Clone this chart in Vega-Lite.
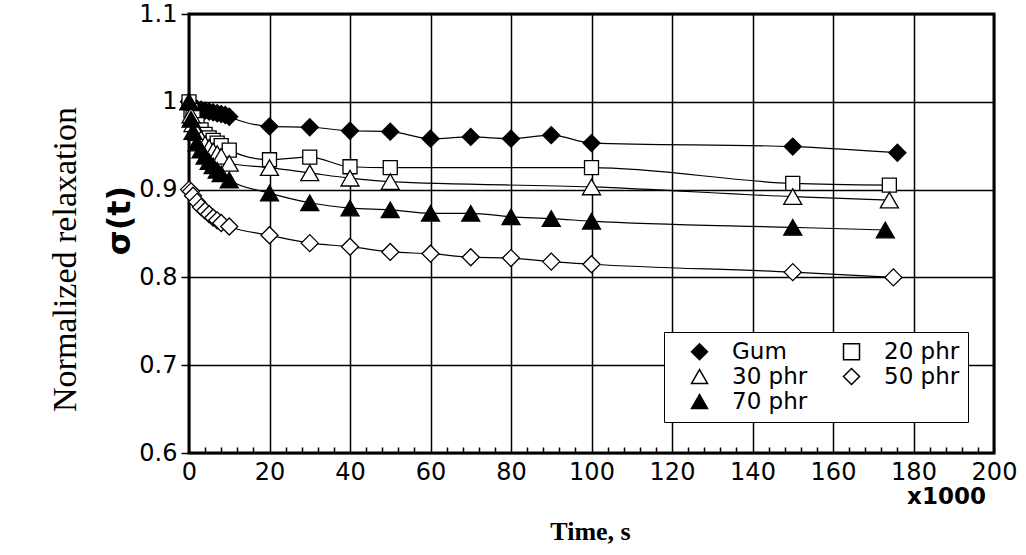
{
  "$schema": "https://vega.github.io/schema/vega-lite/v6.json",
  "width": 805,
  "height": 439,
  "autosize": "none",
  "padding": {"left": 189, "top": 14, "right": 32, "bottom": 102},
  "background": "white",
  "config": {
    "font": "DejaVu Sans",
    "view": {"stroke": "black", "strokeWidth": 3}
  },
  "datasets": {"relax": [
    {"s": "Gum", "t": 0, "v": 1.0}, {"s": "Gum", "t": 0.5, "v": 0.996}, {"s": "Gum", "t": 1, "v": 0.994},
    {"s": "Gum", "t": 2, "v": 0.992}, {"s": "Gum", "t": 3, "v": 0.991}, {"s": "Gum", "t": 4, "v": 0.99},
    {"s": "Gum", "t": 5, "v": 0.989}, {"s": "Gum", "t": 6, "v": 0.988}, {"s": "Gum", "t": 7, "v": 0.987},
    {"s": "Gum", "t": 8, "v": 0.986}, {"s": "Gum", "t": 9, "v": 0.985}, {"s": "Gum", "t": 10, "v": 0.983},
    {"s": "Gum", "t": 20, "v": 0.972}, {"s": "Gum", "t": 30, "v": 0.971}, {"s": "Gum", "t": 40, "v": 0.967},
    {"s": "Gum", "t": 50, "v": 0.966}, {"s": "Gum", "t": 60, "v": 0.958}, {"s": "Gum", "t": 70, "v": 0.96},
    {"s": "Gum", "t": 80, "v": 0.958}, {"s": "Gum", "t": 90, "v": 0.962}, {"s": "Gum", "t": 100, "v": 0.953},
    {"s": "Gum", "t": 150, "v": 0.949}, {"s": "Gum", "t": 176, "v": 0.942},
    {"s": "20 phr", "t": 0, "v": 1.0}, {"s": "20 phr", "t": 0.5, "v": 0.99}, {"s": "20 phr", "t": 1, "v": 0.982},
    {"s": "20 phr", "t": 2, "v": 0.974}, {"s": "20 phr", "t": 3, "v": 0.968}, {"s": "20 phr", "t": 4, "v": 0.963},
    {"s": "20 phr", "t": 5, "v": 0.959}, {"s": "20 phr", "t": 6, "v": 0.956}, {"s": "20 phr", "t": 7, "v": 0.953},
    {"s": "20 phr", "t": 8, "v": 0.95}, {"s": "20 phr", "t": 10, "v": 0.945}, {"s": "20 phr", "t": 20, "v": 0.934},
    {"s": "20 phr", "t": 30, "v": 0.937}, {"s": "20 phr", "t": 40, "v": 0.926}, {"s": "20 phr", "t": 50, "v": 0.925},
    {"s": "20 phr", "t": 100, "v": 0.925}, {"s": "20 phr", "t": 150, "v": 0.907}, {"s": "20 phr", "t": 174, "v": 0.905},
    {"s": "30 phr", "t": 0, "v": 1.0}, {"s": "30 phr", "t": 0.5, "v": 0.985}, {"s": "30 phr", "t": 1, "v": 0.975},
    {"s": "30 phr", "t": 2, "v": 0.965}, {"s": "30 phr", "t": 3, "v": 0.958}, {"s": "30 phr", "t": 4, "v": 0.952},
    {"s": "30 phr", "t": 5, "v": 0.948}, {"s": "30 phr", "t": 6, "v": 0.944}, {"s": "30 phr", "t": 7, "v": 0.941},
    {"s": "30 phr", "t": 8, "v": 0.938}, {"s": "30 phr", "t": 10, "v": 0.93}, {"s": "30 phr", "t": 20, "v": 0.925},
    {"s": "30 phr", "t": 30, "v": 0.919}, {"s": "30 phr", "t": 40, "v": 0.913}, {"s": "30 phr", "t": 50, "v": 0.909},
    {"s": "30 phr", "t": 100, "v": 0.903}, {"s": "30 phr", "t": 150, "v": 0.892}, {"s": "30 phr", "t": 174, "v": 0.888},
    {"s": "50 phr", "t": 0, "v": 0.9}, {"s": "50 phr", "t": 0.5, "v": 0.898}, {"s": "50 phr", "t": 1, "v": 0.893},
    {"s": "50 phr", "t": 2, "v": 0.886}, {"s": "50 phr", "t": 3, "v": 0.88}, {"s": "50 phr", "t": 4, "v": 0.876},
    {"s": "50 phr", "t": 5, "v": 0.872}, {"s": "50 phr", "t": 6, "v": 0.868}, {"s": "50 phr", "t": 7, "v": 0.865},
    {"s": "50 phr", "t": 8, "v": 0.862}, {"s": "50 phr", "t": 10, "v": 0.858}, {"s": "50 phr", "t": 20, "v": 0.848},
    {"s": "50 phr", "t": 30, "v": 0.839}, {"s": "50 phr", "t": 40, "v": 0.835}, {"s": "50 phr", "t": 50, "v": 0.829},
    {"s": "50 phr", "t": 60, "v": 0.827}, {"s": "50 phr", "t": 70, "v": 0.823}, {"s": "50 phr", "t": 80, "v": 0.822},
    {"s": "50 phr", "t": 90, "v": 0.818}, {"s": "50 phr", "t": 100, "v": 0.815}, {"s": "50 phr", "t": 150, "v": 0.806},
    {"s": "50 phr", "t": 175, "v": 0.8},
    {"s": "70 phr", "t": 0, "v": 1.0}, {"s": "70 phr", "t": 0.5, "v": 0.98}, {"s": "70 phr", "t": 1, "v": 0.966},
    {"s": "70 phr", "t": 2, "v": 0.953}, {"s": "70 phr", "t": 3, "v": 0.945}, {"s": "70 phr", "t": 4, "v": 0.938},
    {"s": "70 phr", "t": 5, "v": 0.932}, {"s": "70 phr", "t": 6, "v": 0.927}, {"s": "70 phr", "t": 7, "v": 0.922},
    {"s": "70 phr", "t": 8, "v": 0.918}, {"s": "70 phr", "t": 10, "v": 0.911}, {"s": "70 phr", "t": 20, "v": 0.896},
    {"s": "70 phr", "t": 30, "v": 0.885}, {"s": "70 phr", "t": 40, "v": 0.879}, {"s": "70 phr", "t": 50, "v": 0.877},
    {"s": "70 phr", "t": 60, "v": 0.873}, {"s": "70 phr", "t": 70, "v": 0.873}, {"s": "70 phr", "t": 80, "v": 0.869},
    {"s": "70 phr", "t": 90, "v": 0.867}, {"s": "70 phr", "t": 100, "v": 0.864}, {"s": "70 phr", "t": 150, "v": 0.857},
    {"s": "70 phr", "t": 173, "v": 0.854}
  ]},
  "data": {"name": "relax"},
  "layer": [
    {
      "mark": {"type": "line", "interpolate": "monotone", "stroke": "black", "strokeWidth": 1.2},
      "encoding": {
        "x": {"field": "t", "type": "quantitative", "scale": {"domain": [0, 200], "nice": false, "zero": false},
          "axis": {"orient": "bottom", "values": [0,4,8,12,16,20,24,28,32,36,40,44,48,52,56,60,64,68,72,76,80,84,88,92,96,100,104,108,112,116,120,124,128,132,136,140,144,148,152,156,160,164,168,172,176,180,184,188,192,196,200],
            "labelExpr": "datum.value % 20 === 0 ? datum.label : ''",
            "domain": false, "grid": true, "gridColor": "black", "gridWidth": 1.5,
            "gridOpacity": {"condition": {"test": "datum.value % 20 === 0", "value": 1}, "value": 0},
            "ticks": true, "tickColor": "black", "tickWidth": 1.5, "tickSize": -6,
            "tickOpacity": {"condition": {"test": "datum.value % 20 === 0", "value": 0}, "value": 1},
            "labelFont": "DejaVu Sans", "labelFontSize": 24, "labelColor": "black", "labelPadding": 13,
            "labelFlush": false, "labelOverlap": false,
            "title": "Time, s", "titleFont": "Liberation Serif", "titleFontSize": 26, "titleFontWeight": "bold",
            "titleColor": "black", "titleX": 401, "titleY": 78, "titleAlign": "center", "titleBaseline": "middle"}},
        "y": {"field": "v", "type": "quantitative", "scale": {"domain": [0.6, 1.1], "nice": false, "zero": false},
          "axis": {"orient": "left", "values": [0.6, 0.7, 0.8, 0.9, 1, 1.1], "format": "~g",
            "domain": false, "grid": true, "gridColor": "black", "gridWidth": 1.5,
            "ticks": true, "tickColor": "black", "tickWidth": 1.5, "tickSize": 8,
            "labelFont": "DejaVu Sans", "labelFontSize": 24, "labelColor": "black", "labelPadding": 4,
            "labelFlush": false, "labelOverlap": false,
            "title": "σ(t)", "titleFont": "DejaVu Sans", "titleFontSize": 32, "titleFontWeight": "bold",
            "titleColor": "black", "titleAngle": 270, "titleX": -70, "titleY": 206, "titleAlign": "center", "titleBaseline": "middle"}},
        "detail": {"field": "s"}
      }
    },
    {
      "transform": [{"filter": "datum.s === 'Gum' || datum.s === '50 phr'"}],
      "mark": {"type": "point", "filled": true, "stroke": "black", "strokeWidth": 1.3, "opacity": 1, "size": 289},
      "encoding": {
        "x": {"field": "t", "type": "quantitative",
          "axis": {"orient": "bottom", "domain": false, "ticks": false, "labels": false, "grid": false,
            "title": "x1000", "titleFont": "DejaVu Sans", "titleFontSize": 23, "titleFontWeight": "bold",
            "titleColor": "black", "titleX": 757, "titleY": 43, "titleAlign": "center", "titleBaseline": "middle"}},
        "y": {"field": "v", "type": "quantitative",
          "axis": {"orient": "left", "domain": false, "ticks": false, "labels": false, "grid": false,
            "title": "Normalized relaxation", "titleFont": "Liberation Serif", "titleFontSize": 34, "titleFontWeight": "normal",
            "titleColor": "black", "titleAngle": 270, "titleX": -124, "titleY": 245, "titleAlign": "center", "titleBaseline": "middle"}},
        "shape": {"field": "s", "type": "nominal",
          "scale": {"domain": ["Gum", "20 phr", "30 phr", "50 phr", "70 phr"], "range": ["diamond", "square", "triangle-up", "diamond", "triangle-up"]},
          "legend": {"orient": "none", "legendX": 475, "legendY": 318, "columns": 2, "direction": "horizontal", "padding": 8,
            "strokeColor": "black", "fillColor": "white", "title": null,
            "labelFont": "DejaVu Sans", "labelFontSize": 23, "labelColor": "black",
            "symbolSize": 256, "rowPadding": 1, "columnPadding": 16, "labelOffset": 21, "symbolOffset": 16,
            "encode": {"symbols": {
              "shape": {"condition": [
                {"test": "datum.value === 'Gum' || datum.value === '50 phr'", "value": "M-3.2,0H-1.06M1.06,0H3.2M-1.06,0L0,-1.06L1.06,0L0,1.06Z"},
                {"test": "datum.value === '20 phr'", "value": "M-3.2,0H-0.875M0.875,0H3.2M-0.875,-0.875H0.875V0.875H-0.875Z"}],
                "value": "M-3.2,0H-0.56M0.56,0H3.2M0,-0.94L1.125,0.94H-1.125Z"},
              "stroke": {"value": "black"}, "strokeWidth": {"value": 1.3}}}}},
        "fill": {"field": "s", "type": "nominal",
          "scale": {"domain": ["Gum", "20 phr", "30 phr", "50 phr", "70 phr"], "range": ["black", "white", "white", "white", "black"]},
          "legend": {"orient": "none", "legendX": 475, "legendY": 318, "columns": 2, "direction": "horizontal", "padding": 8,
            "strokeColor": "black", "fillColor": "white", "title": null,
            "labelFont": "DejaVu Sans", "labelFontSize": 23, "labelColor": "black",
            "symbolSize": 256, "rowPadding": 1, "columnPadding": 16, "labelOffset": 21, "symbolOffset": 16,
            "encode": {"symbols": {
              "shape": {"condition": [
                {"test": "datum.value === 'Gum' || datum.value === '50 phr'", "value": "M-3.2,0H-1.06M1.06,0H3.2M-1.06,0L0,-1.06L1.06,0L0,1.06Z"},
                {"test": "datum.value === '20 phr'", "value": "M-3.2,0H-0.875M0.875,0H3.2M-0.875,-0.875H0.875V0.875H-0.875Z"}],
                "value": "M-3.2,0H-0.56M0.56,0H3.2M0,-0.94L1.125,0.94H-1.125Z"},
              "stroke": {"value": "black"}, "strokeWidth": {"value": 1.3}}}}}
      }
    },
    {
      "transform": [{"filter": "datum.s === '20 phr'"}],
      "mark": {"type": "point", "filled": true, "stroke": "black", "strokeWidth": 1.3, "opacity": 1, "size": 196},
      "encoding": {
        "x": {"field": "t", "type": "quantitative", "axis": null},
        "y": {"field": "v", "type": "quantitative", "axis": null},
        "shape": {"field": "s", "type": "nominal",
          "scale": {"domain": ["Gum", "20 phr", "30 phr", "50 phr", "70 phr"], "range": ["diamond", "square", "triangle-up", "diamond", "triangle-up"]}},
        "fill": {"field": "s", "type": "nominal",
          "scale": {"domain": ["Gum", "20 phr", "30 phr", "50 phr", "70 phr"], "range": ["black", "white", "white", "white", "black"]}}
      }
    },
    {
      "transform": [{"filter": "datum.s === '30 phr' || datum.s === '70 phr'"}],
      "mark": {"type": "point", "filled": true, "stroke": "black", "strokeWidth": 1.3, "opacity": 1, "size": 324},
      "encoding": {
        "x": {"field": "t", "type": "quantitative", "axis": null},
        "y": {"field": "v", "type": "quantitative", "axis": null},
        "shape": {"field": "s", "type": "nominal",
          "scale": {"domain": ["Gum", "20 phr", "30 phr", "50 phr", "70 phr"], "range": ["diamond", "square", "triangle-up", "diamond", "triangle-up"]}},
        "fill": {"field": "s", "type": "nominal",
          "scale": {"domain": ["Gum", "20 phr", "30 phr", "50 phr", "70 phr"], "range": ["black", "white", "white", "white", "black"]}}
      }
    }
  ],
  "resolve": {"axis": {"x": "independent", "y": "independent"}}
}
